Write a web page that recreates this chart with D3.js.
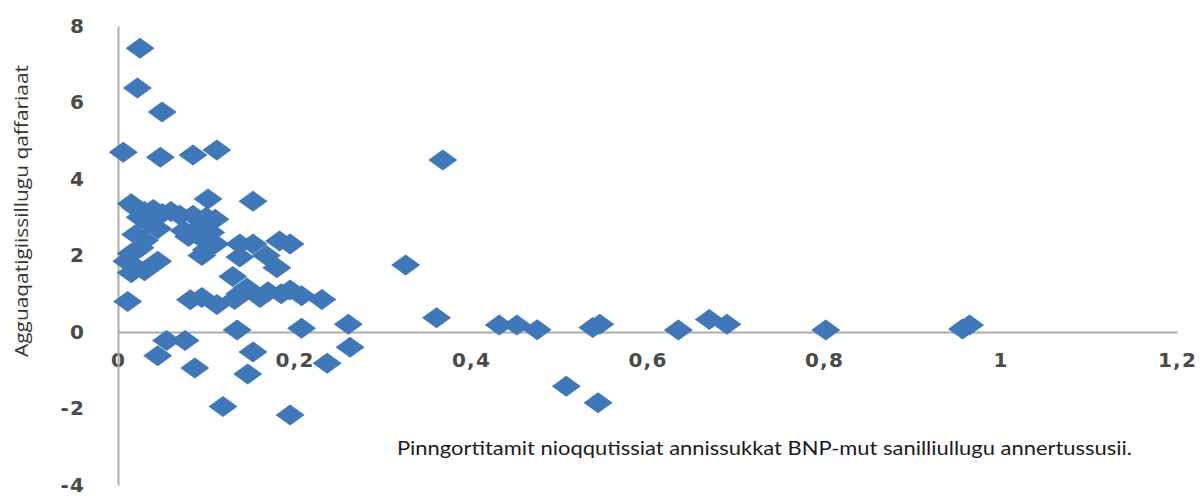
<!DOCTYPE html>
<html>
<head>
<meta charset="utf-8">
<script src="https://cdn.jsdelivr.net/npm/d3@7"></script>
<style>
  body { margin: 0; background: #fff; }
  svg { display: block; }
</style>
</head>
<body>
<div id="container"></div>
<script>
/* DATA */
const xValues = [
  0.025, 0.022, 0.05, 0.006, 0.048, 0.085, 0.112, 0.102, 0.153,
  0.015, 0.02, 0.03, 0.04, 0.05, 0.06, 0.07, 0.085, 0.1, 0.11,
  0.025, 0.035, 0.045, 0.02, 0.03, 0.075, 0.09, 0.105, 0.095, 0.08, 0.11,
  0.1, 0.095, 0.025, 0.015, 0.01, 0.02, 0.03, 0.045, 0.015,
  0.138, 0.153, 0.183, 0.195, 0.138, 0.168, 0.18, 0.13,
  0.011, 0.082, 0.095, 0.112, 0.132, 0.138, 0.146, 0.161, 0.17, 0.185, 0.195, 0.208, 0.231,
  0.135, 0.208, 0.261, 0.263, 0.237, 0.153, 0.147, 0.087, 0.045, 0.055, 0.076, 0.119, 0.195,
  0.326, 0.368, 0.361, 0.432, 0.452, 0.475, 0.508, 0.538, 0.546, 0.544,
  0.635, 0.67, 0.69, 0.802, 0.957, 0.965
];
const yValues = [
  7.42, 6.38, 5.75, 4.7, 4.57, 4.63, 4.76, 3.48, 3.42,
  3.35, 3.25, 3.15, 3.2, 3.1, 3.15, 3.05, 3.05, 3.0, 2.95,
  3.0, 2.85, 2.7, 2.55, 2.4, 2.65, 2.7, 2.6, 2.45, 2.5, 2.3,
  2.15, 2.0, 2.2, 2.05, 1.85, 1.7, 1.6, 1.85, 1.55,
  2.3, 2.3, 2.38, 2.3, 1.96, 2.0, 1.68, 1.45,
  0.8, 0.84, 0.9, 0.72, 0.85, 1.0, 1.15, 0.9, 1.05, 1.0, 1.1, 0.95, 0.85,
  0.05, 0.1, 0.2, -0.4, -0.82, -0.52, -1.1, -0.94, -0.62, -0.22, -0.22, -1.95, -2.17,
  1.75, 4.5, 0.37, 0.18, 0.18, 0.06, -1.42, 0.12, 0.2, -1.85,
  0.05, 0.33, 0.2, 0.05, 0.08, 0.18
];
const xTicks = [0, 0.2, 0.4, 0.6, 0.8, 1, 1.2];
const yTicks = [-4, -2, 0, 2, 4, 6, 8];
const xTitle = "Pinngortitamit nioqqutissiat annissukkat BNP-mut sanilliullugu annertussusii.";
const yTitle = "Agguaqatigiissillugu qaffariaat";

/* LAYOUT */
const width = 1201, height = 496;
const fmt = d => String(d).replace(".", ",");
const points = xValues.map((x, i) => ({ x, y: yValues[i] }));

const x = d3.scaleLinear().domain([0, 1.2]).range([118, 1177]);
const y = d3.scaleLinear().domain([-4, 8]).range([485, 26]);

const svg = d3.select("#container").append("svg")
  .attr("width", width)
  .attr("height", height);

// x axis sits on y = 0
const xAxis = svg.append("g")
  .attr("transform", `translate(0,${y(0)})`)
  .call(d3.axisBottom(x).tickValues(xTicks).tickFormat(fmt).tickSize(0).tickPadding(21));

const yAxis = svg.append("g")
  .attr("transform", `translate(${x(0)},0)`)
  .call(d3.axisLeft(y).tickValues(yTicks).tickFormat(fmt).tickSize(0).tickPadding(33));

[xAxis, yAxis].forEach(g => {
  g.select(".domain").attr("stroke", "#acacac").attr("stroke-width", 2);
  g.selectAll("text")
    .attr("fill", "#4a4a4a")
    .style("font-family", "'DejaVu Sans', sans-serif")
    .style("font-weight", "bold")
    .style("font-size", "20px")
    .style("letter-spacing", "1.2px");
});

// DIAMONDS
const hw = 14.5, hh = 10.5;
svg.selectAll("path.pt")
  .data(points)
  .join("path")
  .attr("class", "pt")
  .attr("d", `M0,${-hh}L${hw},0L0,${hh}L${-hw},0Z`)
  .attr("fill", "#3f77b8")
  .attr("transform", d => `translate(${x(d.x)},${y(d.y)})`);

// TITLES
svg.append("text")
  .attr("transform", "translate(28,211) rotate(-90)")
  .attr("text-anchor", "middle")
  .attr("textLength", 292)
  .attr("lengthAdjust", "spacingAndGlyphs")
  .attr("fill", "#333")
  .style("font-family", "'Open Sans', sans-serif")
  .style("font-size", "18px")
  .text(yTitle);

svg.append("text")
  .attr("x", 397)
  .attr("y", 455)
  .attr("textLength", 735)
  .attr("lengthAdjust", "spacingAndGlyphs")
  .attr("fill", "#1a1a1a")
  .style("font-family", "Lato, sans-serif")
  .style("font-size", "20px")
  .text(xTitle);
</script>
</body>
</html>
